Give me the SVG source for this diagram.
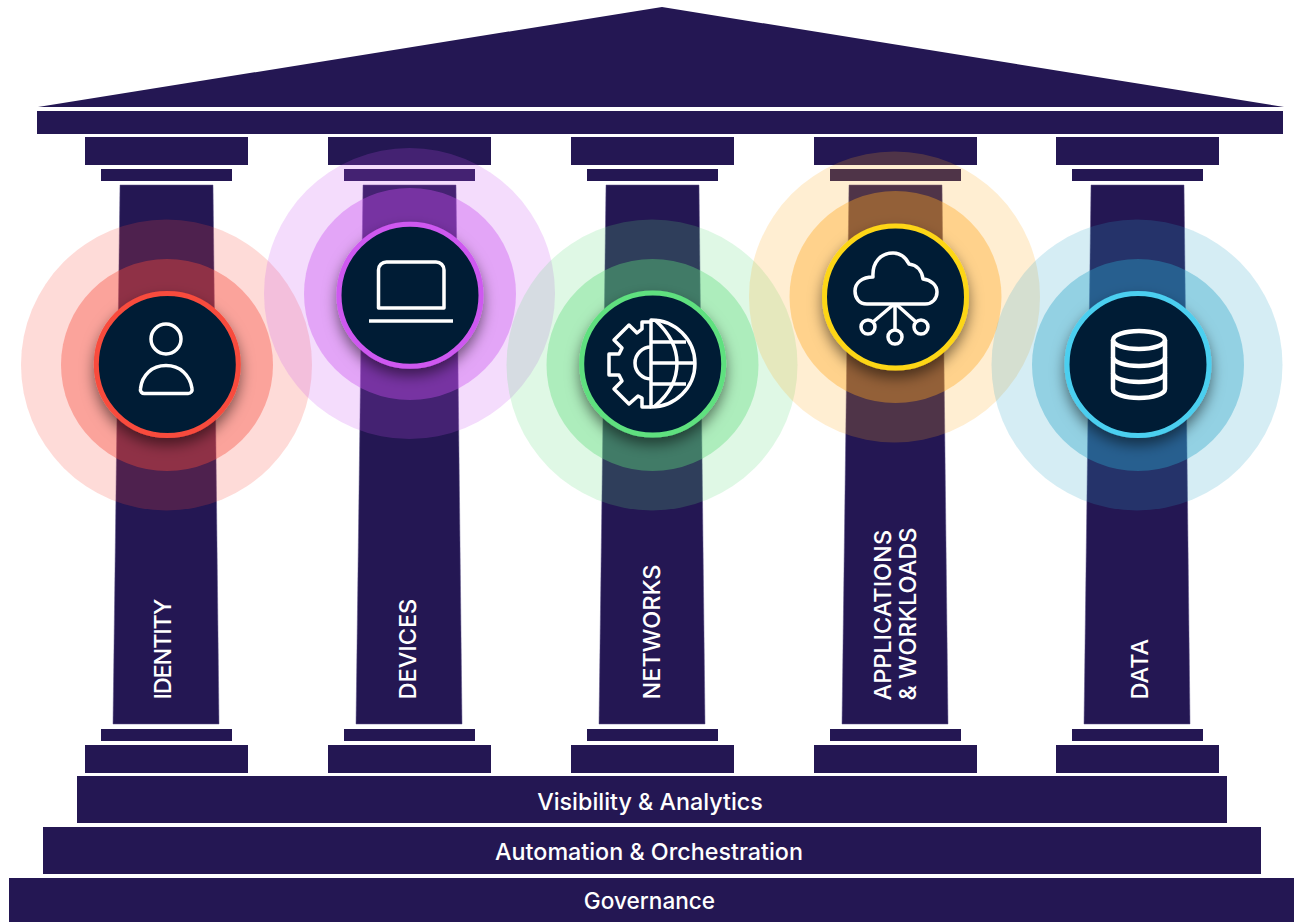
<svg xmlns="http://www.w3.org/2000/svg" width="1294" height="922" viewBox="0 0 1294 922">
<style>
.n{fill:#241753}
.s{fill:#241753;stroke:#5d5288;stroke-width:.5}
.d{fill:#011e35;stroke-width:5}
.i{fill:none;stroke:#fff;stroke-width:3.500;stroke-linejoin:round}
text{fill:#fff;font-family:"Inter","Noto Sans","Liberation Sans",sans-serif;font-weight:500}
.h{font-size:23.300px;text-anchor:middle}
.v{font-size:23.500px}
</style>
<defs>
<filter id="sh" x="-30%" y="-30%" width="160%" height="170%"><feDropShadow dx="0" dy="7" stdDeviation="7" flood-color="#000" flood-opacity=".5"/></filter>
<g id="col">
<rect class="n" x="0" y="137" width="163" height="28"/>
<rect class="n" x="16" y="169" width="131" height="12"/>
<path class="s" d="M35,185H128L134,724H28Z"/>
<rect class="n" x="16" y="729" width="131" height="12"/>
<rect class="n" x="0" y="745" width="163" height="28"/>
</g>
</defs>
<g id="roof">
<path class="n" d="M662,7L1284,107H38Z"/>
<rect class="n" x="37" y="111" width="1246" height="23"/>
</g>
<use id="col-identity" href="#col" x="85"/>
<use id="col-devices" href="#col" x="328"/>
<use id="col-networks" href="#col" x="571"/>
<use id="col-apps" href="#col" x="814"/>
<use id="col-data" href="#col" x="1056"/>
<g id="labels-vertical">
<text class="v" transform="translate(171,699.500) rotate(-90)" textLength="101">IDENTITY</text>
<text class="v" transform="translate(416,699.500) rotate(-90)">DEVICES</text>
<text class="v" transform="translate(660,699.500) rotate(-90)">NETWORKS</text>
<text class="v" transform="translate(891,700.500) rotate(-90)">APPLICATIONS</text>
<text class="v" transform="translate(916,700.500) rotate(-90)">&amp; WORKLOADS</text>
<text class="v" transform="translate(1148,699.500) rotate(-90)">DATA</text>
</g>
<g id="halos">
<g fill="#f84b3c"><circle cx="166.500" cy="365" r="145.500" opacity=".2"/><circle cx="167" cy="365" r="106" opacity=".39"/></g>
<g fill="#c94ff0"><circle cx="409.500" cy="293.500" r="145.500" opacity=".2"/><circle cx="410" cy="294" r="106" opacity=".39"/></g>
<g fill="#5fdc7c"><circle cx="652" cy="365" r="145.500" opacity=".2"/><circle cx="652.500" cy="365" r="106" opacity=".39"/></g>
<g fill="#ffa820"><circle cx="894.500" cy="297" r="145.500" opacity=".2"/><circle cx="895.500" cy="297" r="106" opacity=".39"/></g>
<g fill="#2ba4c9"><circle cx="1137" cy="365" r="145.500" opacity=".2"/><circle cx="1138" cy="365" r="106" opacity=".39"/></g>
</g>
<g id="node-identity">
<circle class="d" cx="167.300" cy="364.500" r="71" stroke="#f84b3c" filter="url(#sh)"/>
<circle class="i" cx="166" cy="339" r="15"/>
<path class="i" d="M145,393.500H188a4,4 0 0 0 4,-5C190,375 180,365.500 166,365.500C152,365.500 142,375 140.500,388.500a4,4 0 0 0 4.500,5Z"/>
</g>
<g id="node-devices">
<circle class="d" cx="410" cy="295.300" r="71" stroke="#ce58f0" filter="url(#sh)"/>
<path class="i" d="M378.500,308V270a8,8 0 0 1 8,-8H436a8,8 0 0 1 8,8V308Z"/>
<path class="i" d="M369,321H453"/>
</g>
<g id="node-networks">
<circle class="d" cx="652.700" cy="364" r="71" stroke="#5fe07f" filter="url(#sh)"/>
<path class="i" d="M651,320A44,43.500 0 0 1 651,407Z"/>
<path class="i" d="M651,322H642V329L637,333L629,325L614,340L622,348L619,354H609V375H619L622,381L614,389L629,404L638,396L642,398V407H651"/>
<path class="i" d="M651,347A16,16 0 0 0 651,379"/>
<path class="i" d="M655,320Q677,340 677,363Q677,388 655,406"/>
<path class="i" d="M651,342H686M651,363H695M651,384H686"/>
</g>
<g id="node-apps">
<circle class="d" cx="895.500" cy="297" r="71" stroke="#fdd616" filter="url(#sh)"/>
<path class="i" d="M867,304H925C932,304 937,299 937,292C937,285 931,280 923,279C922,271 917,265 909,264C906,258 901,253 893,253C881,253 872,262 873,277C862,277 855,283 855,291C855,298 859,304 867,304Z"/>
<path class="i" d="M895,305V330M893,305L873,322M897,305L916,322"/>
<circle class="i" cx="868" cy="327" r="7"/>
<circle class="i" cx="895" cy="337" r="7"/>
<circle class="i" cx="921" cy="327" r="7"/>
</g>
<g id="node-data">
<circle class="d" cx="1138" cy="364.500" r="71" stroke="#4bcff0" filter="url(#sh)"/>
<g class="i" style="stroke-width:4.500">
<ellipse cx="1139" cy="340" rx="26" ry="9"/>
<path d="M1113,340V389C1113,394 1125,398 1139,398C1153,398 1165,394 1165,389V340"/>
<path d="M1113,357C1113,362 1125,366 1139,366C1153,366 1165,362 1165,357"/>
<path d="M1113,373C1113,378 1125,382 1139,382C1153,382 1165,378 1165,373"/>
</g>
</g>
<g id="step-visibility">
<rect class="n" x="77" y="776" width="1150" height="47"/>
<text class="h" x="650" y="810">Visibility &amp; Analytics</text>
</g>
<g id="step-automation">
<rect class="n" x="43" y="827" width="1218" height="47"/>
<text class="h" x="649" y="859.500">Automation &amp; Orchestration</text>
</g>
<g id="step-governance">
<rect class="n" x="9" y="878" width="1285" height="44"/>
<text class="h" x="649.500" y="908.500" style="font-size:22.600px">Governance</text>
</g>
</svg>
